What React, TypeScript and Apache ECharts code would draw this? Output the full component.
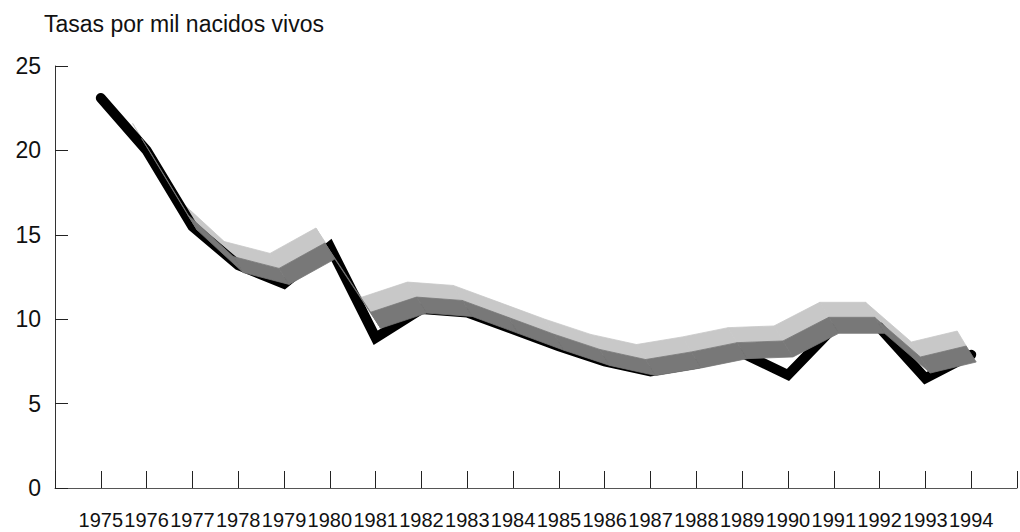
import React, { useEffect, useRef } from "react";
import * as echarts from "echarts";

const titleText = "Tasas por mil nacidos vivos";
const years = [1975, 1976, 1977, 1978, 1979, 1980, 1981, 1982, 1983, 1984, 1985, 1986, 1987, 1988, 1989, 1990, 1991, 1992, 1993, 1994];
// front (black) edge of the ribbon
const blackValues = [23.1, 20.0, 15.5, 13.2, 12.1, 14.3, 8.9, 10.6, 10.4, 9.4, 8.4, 7.5, 6.9, 7.35, 8.0, 6.7, 9.5, 9.5, 6.5, 7.9];
// grey ribbon face
const ribbonValues = [23.1, 20.0, 15.5, 13.0, 12.3, 13.8, 9.7, 10.6, 10.4, 9.4, 8.4, 7.5, 6.9, 7.35, 7.9, 8.0, 9.4, 9.4, 7.05, 7.7];
const yTicks = [0, 5, 10, 15, 20, 25];
const xMin = 1974;
const xMax = 1995;

const makeBand = (vA: number[], vB: number[], color: string, firstIndex: number) => (params: any, api: any) => {
  const i = params.dataIndex;
  if (i < firstIndex || i >= years.length - 1) return null;
  const p0 = api.coord([api.value(0), api.value(1)]);
  const p1 = api.coord([years[i + 1], ribbonValues[i + 1]]);
  return {
    type: "polygon",
    shape: {
      points: [
        [p0[0] + vA[0], p0[1] + vA[1]],
        [p1[0] + vA[0], p1[1] + vA[1]],
        [p1[0] + vB[0], p1[1] + vB[1]],
        [p0[0] + vB[0], p0[1] + vB[1]],
      ],
    },
    style: { fill: color, stroke: color, lineWidth: 0.8 },
  };
};

export default function App() {
  const ref = useRef<HTMLDivElement>(null);
  useEffect(() => {
    if (!ref.current) return;
    const chart = echarts.init(ref.current, undefined, { renderer: "svg" });
    const font = "'Liberation Sans', Arial, Helvetica, sans-serif";
    const ribbonData = years.map((y, i) => [y, ribbonValues[i]]);
    chart.setOption({
      animation: false,
      backgroundColor: "#ffffff",
      title: {
        text: titleText,
        left: 39,
        top: 7,
        textStyle: { fontSize: 23, fontWeight: "normal", color: "#111", fontFamily: font },
      },
      grid: { left: 55, right: 2, top: 66, bottom: 44 },
      xAxis: {
        type: "value",
        min: xMin,
        max: xMax,
        interval: 1,
        splitLine: { show: false },
        axisLine: { show: true, lineStyle: { color: "#555", width: 1 } },
        axisTick: { show: true, inside: true, length: 17, lineStyle: { color: "#222", width: 1 } },
        axisLabel: {
          formatter: (v: number) => (years.indexOf(v) >= 0 ? String(v) : ""),
          fontSize: 20,
          fontFamily: font,
          color: "#111",
          margin: 22,
          showMinLabel: true,
          showMaxLabel: true,
        },
      },
      yAxis: {
        type: "value",
        min: yTicks[0],
        max: yTicks[yTicks.length - 1],
        interval: 5,
        splitLine: { show: false },
        axisLine: { show: true, lineStyle: { color: "#333", width: 1 } },
        axisTick: { show: true, inside: true, length: 13, lineStyle: { color: "#222", width: 1 } },
        axisLabel: { fontSize: 23, fontFamily: font, color: "#111", margin: 14 },
      },
      series: [
        {
          type: "custom",
          z: 1,
          data: ribbonData,
          encode: { x: 0, y: 1 },
          clip: false,
          renderItem: makeBand([-5, -12], [-14, -27], "#c8c8c8", 1),
        },
        {
          type: "line",
          z: 2,
          data: years.map((y, i) => [y, blackValues[i]]),
          showSymbol: false,
          symbol: "none",
          lineStyle: { color: "#000", width: 10, cap: "round", join: "miter", miterLimit: 10 },
        },
        {
          type: "custom",
          z: 3,
          data: ribbonData,
          encode: { x: 0, y: 1 },
          clip: false,
          renderItem: makeBand([5, 4], [-5, -12], "#787878", 1),
        },
      ],
    });
    return () => chart.dispose();
  }, []);
  return (
    <div
      ref={ref}
      style={{ position: "fixed", left: 0, top: 0, width: 1020, height: 532, background: "#fff" }}
    />
  );
}
